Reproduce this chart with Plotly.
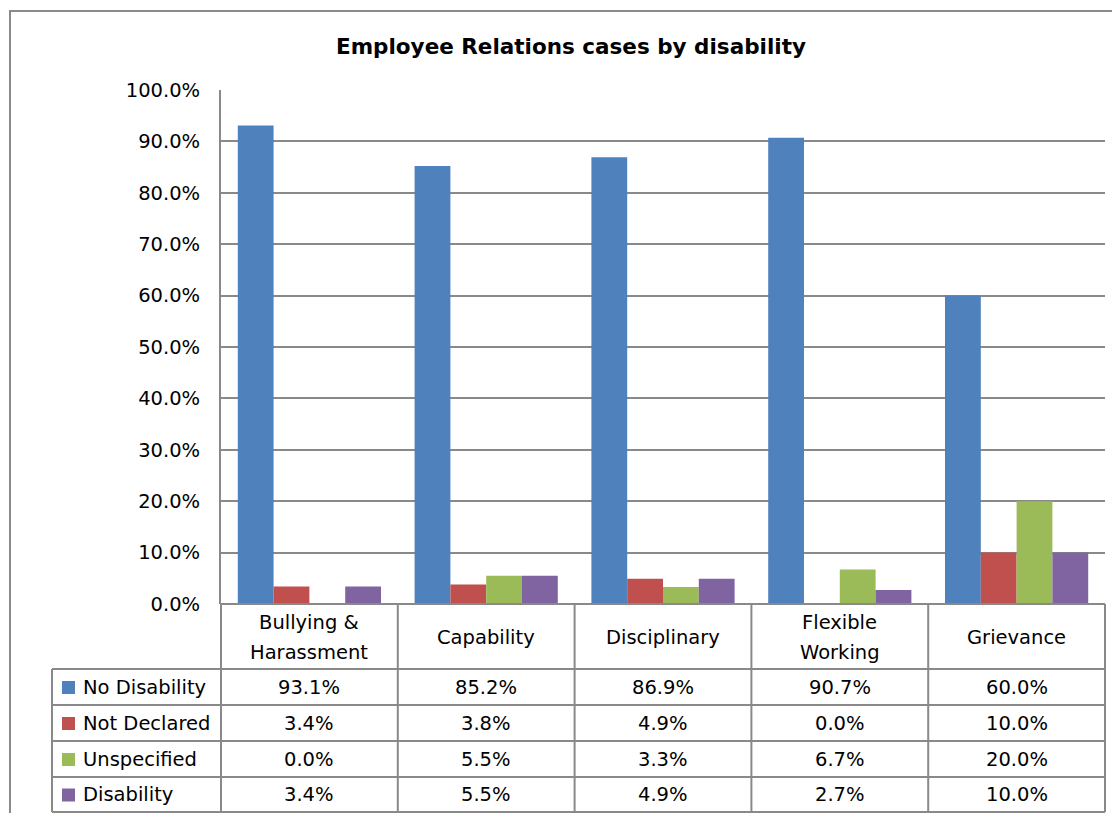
import plotly.graph_objects as go

categories = ["Bullying & Harassment", "Capability", "Disciplinary", "Flexible Working", "Grievance"]
category_labels = ["Bullying &<br>Harassment", "Capability", "Disciplinary", "Flexible<br>Working", "Grievance"]
series_names = ["No Disability", "Not Declared", "Unspecified", "Disability"]
no_disability = [0.931, 0.852, 0.869, 0.907, 0.600]
not_declared = [0.034, 0.038, 0.049, 0.000, 0.100]
unspecified = [0.000, 0.055, 0.033, 0.067, 0.200]
disability = [0.034, 0.055, 0.049, 0.027, 0.100]
series_values = [no_disability, not_declared, unspecified, disability]
colors = ["#4F81BD", "#C0504D", "#9BBB59", "#8064A2"]

# page has an 8px body margin, so the figure is a little smaller than the window
OFF = 8
W, H = 1104, 805
FONT = "'DejaVu Sans', sans-serif"
FS = 19.5
GRID = "#898989"


def px(x):
    return (x - OFF) / W


def py(y):
    return 1 - (y - OFF) / H


# plot area, in window pixels
PL, PR, PT, PB = 221, 1105, 90, 604
ROWS = [669, 705, 741, 777, 812]
TABLE_LEFT = 52

fig = go.Figure()
for name, vals, col in zip(series_names, series_values, colors):
    fig.add_trace(go.Bar(x=categories, y=vals, name=name, marker=dict(color=col, line=dict(width=0))))

shapes = []
annotations = []

# outer chart border
shapes.append(dict(type="rect", xref="paper", yref="paper", x0=px(10), y0=py(11), x1=px(1140), y1=py(840),
                   line=dict(color="#8a8a8a", width=2)))

# table lines
shapes.append(dict(type="line", xref="paper", yref="paper", x0=px(PL), x1=px(PR), y0=py(PB), y1=py(PB),
                   line=dict(color=GRID, width=2)))
for r in ROWS:
    shapes.append(dict(type="line", xref="paper", yref="paper", x0=px(TABLE_LEFT), x1=px(PR), y0=py(r), y1=py(r),
                       line=dict(color=GRID, width=2)))
ncat = len(categories)
for i in range(ncat + 1):
    xx = PL + (PR - PL) * i / ncat
    shapes.append(dict(type="line", xref="paper", yref="paper", x0=px(xx), x1=px(xx), y0=py(PB), y1=py(ROWS[-1]),
                       line=dict(color=GRID, width=2)))
shapes.append(dict(type="line", xref="paper", yref="paper", x0=px(TABLE_LEFT), x1=px(TABLE_LEFT),
                   y0=py(ROWS[0]), y1=py(ROWS[-1]), line=dict(color=GRID, width=2)))

# header category labels (one annotation per line, Excel-like line spacing)
LINE_GAP = 30
for cat, lab in zip(categories, category_labels):
    lines = lab.split("<br>")
    mid = (PB + ROWS[0]) / 2 + 1
    for j, line in enumerate(lines):
        yy = mid + (j - (len(lines) - 1) / 2) * LINE_GAP
        annotations.append(dict(x=cat, xref="x", y=py(yy), yref="paper", text=line, showarrow=False,
                                font=dict(family=FONT, size=FS, color="#000"), xanchor="center", yanchor="middle"))

# data rows with legend keys
for k, (name, vals, col) in enumerate(zip(series_names, series_values, colors)):
    yc = (ROWS[k] + ROWS[k + 1]) / 2
    shapes.append(dict(type="rect", xref="paper", yref="paper", x0=px(62), x1=px(75), y0=py(yc - 6), y1=py(yc + 7),
                       fillcolor=col, line=dict(width=0)))
    annotations.append(dict(x=px(81), xref="paper", y=py(yc), yref="paper", text=name, showarrow=False,
                            font=dict(family=FONT, size=FS, color="#000"), xanchor="left", yanchor="middle"))
    for cat, v in zip(categories, vals):
        annotations.append(dict(x=cat, xref="x", y=py(yc), yref="paper", text=f"{v:.1%}", showarrow=False,
                                font=dict(family=FONT, size=FS, color="#000"), xanchor="center", yanchor="middle"))

# title
annotations.append(dict(x=px(571), xref="paper", y=py(46), yref="paper",
                        text="<b>Employee Relations cases by disability</b>", showarrow=False,
                        font=dict(family=FONT, size=21.5, color="#000"), xanchor="center", yanchor="middle"))

fig.update_layout(
    width=W, height=H,
    margin=dict(l=0, r=0, t=0, b=0, autoexpand=False),
    paper_bgcolor="white", plot_bgcolor="white",
    barmode="group", bargap=0.19, bargroupgap=0,
    showlegend=False,
    xaxis=dict(domain=[px(PL), px(PR)], showticklabels=False, showgrid=False, zeroline=False,
               showline=False, ticks="", automargin=False),
    yaxis=dict(domain=[py(PB), py(PT)], range=[0, 1], dtick=0.1, tickformat=".1%",
               showgrid=True, gridcolor=GRID, gridwidth=2, zeroline=False,
               showline=True, linecolor=GRID, linewidth=2, ticks="", ticklabelstandoff=15,
               automargin=False, tickfont=dict(family=FONT, size=FS, color="#000")),
    shapes=shapes,
    annotations=annotations,
)

fig.write_html("out.html")
